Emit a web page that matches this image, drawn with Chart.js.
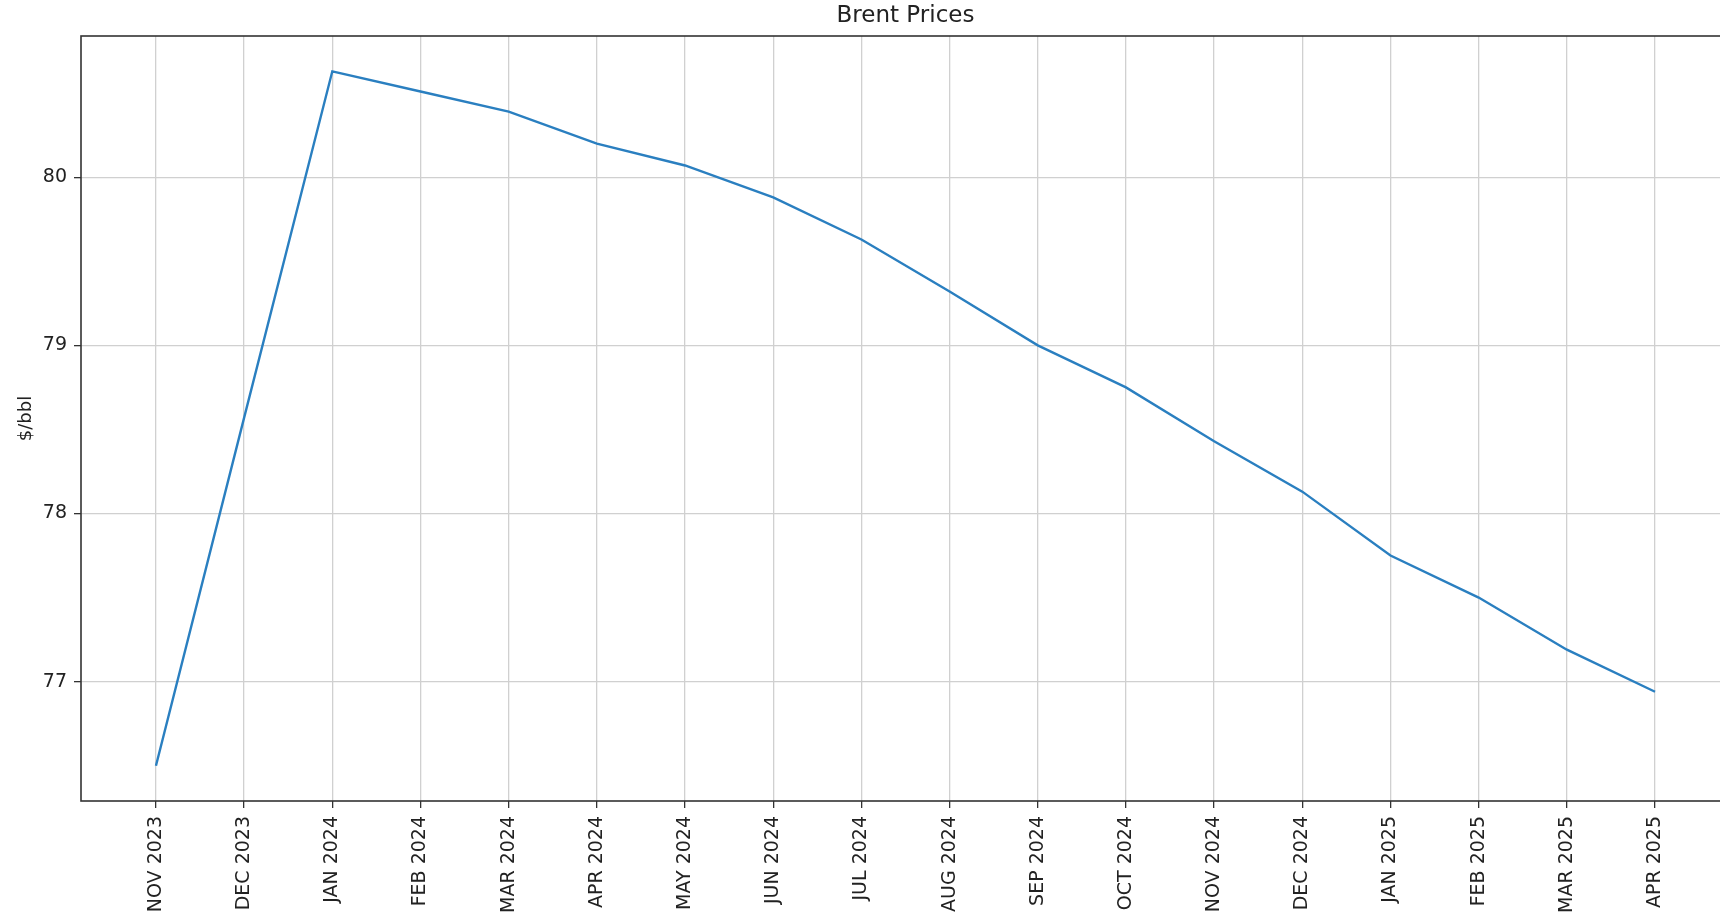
<!DOCTYPE html>
<html>
<head>
<meta charset="utf-8">
<script src="https://cdn.jsdelivr.net/npm/chart.js@4"></script>
<style>
  html, body { margin: 0; padding: 0; background: #fff; overflow: hidden; }
  #wrap { width: 1810px; height: 913px; }
</style>
</head>
<body>
<div id="wrap"><canvas id="brentChart" width="1810" height="913"></canvas></div>
<script>
// Monthly Brent forecast ($/bbl)
const months = ['NOV 2023', 'DEC 2023', 'JAN 2024', 'FEB 2024', 'MAR 2024', 'APR 2024',
    'MAY 2024', 'JUN 2024', 'JUL 2024', 'AUG 2024', 'SEP 2024', 'OCT 2024',
    'NOV 2024', 'DEC 2024', 'JAN 2025', 'FEB 2025', 'MAR 2025', 'APR 2025'];
const brentPrices = [76.50, 78.57, 80.63, 80.51, 80.39, 80.20, 80.07, 79.88, 79.63,
    79.32, 79.00, 78.75, 78.43, 78.13, 77.75, 77.50, 77.19, 76.94];
const yTicks = [77, 78, 79, 80];

const points = brentPrices.map((v, i) => ({ x: i, y: v }));

// box round the plot area + title centred over it, like matplotlib
const frame = {
    id: 'frame',
    afterDatasetsDraw(chart) {
        const { ctx, chartArea: a } = chart;
        ctx.save();
        ctx.strokeStyle = '#333';
        ctx.lineWidth = 1.6;
        ctx.strokeRect(a.left, a.top, a.right - a.left, a.bottom - a.top);
        ctx.fillStyle = '#222';
        ctx.font = '23px "DejaVu Sans", sans-serif';
        ctx.textAlign = 'center';
        ctx.textBaseline = 'middle';
        ctx.fillText('Brent Prices', (a.left + a.right) / 2, 16);
        ctx.restore();
    }
};

Chart.defaults.font.family = '"DejaVu Sans", sans-serif';
Chart.defaults.color = '#222';

const ctx = document.getElementById('brentChart').getContext('2d');

const brentChart = new Chart(ctx, {
    type: 'line',
    data: {
        datasets: [{
            label: 'Brent',
            data: points,
            borderColor: '#2a7fc0',
            borderWidth: 2.4,
            pointRadius: 0,
            tension: 0,
            fill: false
        }]
    },
    options: {
        responsive: false,
        animation: false,
        layout: { padding: { left: 0, right: 80, top: 36, bottom: 0 } },
        plugins: {
            legend: { display: false },
            tooltip: { enabled: false },
            title: { display: false }
        },
        scales: {
            x: {
                type: 'linear',
                min: -0.85,
                max: 17.85,
                afterBuildTicks: (axis) => { axis.ticks = months.map((_, i) => ({ value: i })); },
                afterFit: (axis) => { axis.height = 112; },
                ticks: {
                    autoSkip: false,
                    minRotation: 90,
                    maxRotation: 90,
                    padding: 8,
                    font: { size: 19 },
                    callback: (value) => months[value]
                },
                grid: { color: '#d0d0d0', lineWidth: 1.3, tickLength: 7, tickColor: '#333', tickWidth: 1.3 },
                border: { display: false }
            },
            y: {
                min: 76.29,
                max: 80.84,
                afterBuildTicks: (axis) => { axis.ticks = yTicks.map(v => ({ value: v })); },
                afterFit: (axis) => { axis.width = 81; },
                ticks: {
                    padding: 7,
                    font: { size: 19 }
                },
                title: {
                    display: true,
                    text: '$/bbl',
                    font: { size: 18 },
                    padding: { top: 16, bottom: 0 }
                },
                grid: { color: '#d0d0d0', lineWidth: 1.3, tickLength: 7, tickColor: '#333', tickWidth: 1.3 },
                border: { display: false }
            }
        }
    },
    plugins: [frame]
});
</script>
</body>
</html>
